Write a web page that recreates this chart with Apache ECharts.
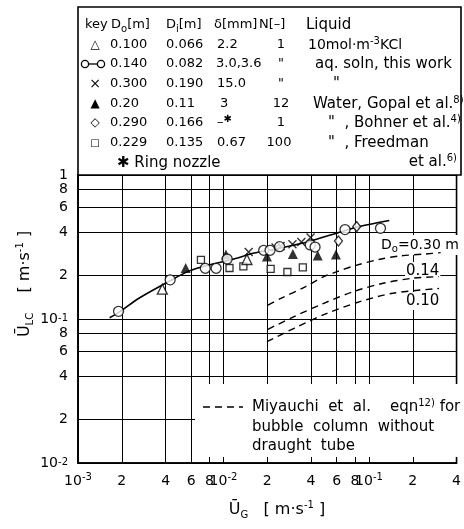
<!DOCTYPE html>
<html><head><meta charset="utf-8">
<script src="https://cdn.jsdelivr.net/npm/echarts@6/dist/echarts.min.js"></script>
<style>html,body{margin:0;padding:0;background:#fff}#c{width:464px;height:529px}</style>
</head><body><div id="c"></div>
<script>
// ---- axis ticks / labels ----
const xTickValues = [0.001,0.002,0.004,0.006,0.008,0.01,0.02,0.04,0.06,0.08,0.1,0.2,0.4];
const xTickLabels = ['10{sup|-3}','2','4','6','8','10{sup|-2}','2','4','6','8','10{sup|-1}','2','4'];
const yTickValues = [0.01,0.02,0.04,0.06,0.08,0.1,0.2,0.4,0.6,0.8,1];
const yTickLabels = ['10{sup|-2}','2','4','6','8','10{sup|-1}','2','4','6','8','1'];

// ---- data (U_G [m/s], U_LC [m/s]) ----
const circ140 = [[0.0019,0.113],[0.0043,0.187],[0.0075,0.225],[0.0089,0.225],[0.0106,0.261],[0.0189,0.300],[0.0209,0.300],[0.0243,0.318],[0.0395,0.327],[0.0426,0.316],[0.0685,0.418],[0.120,0.426]];
const tri100 = [[0.0038,0.161],[0.0145,0.259]];
const cross300 = [[0.0149,0.292],[0.0228,0.314],[0.0247,0.321],[0.0298,0.330],[0.0343,0.342],[0.0397,0.368]];
const triGopal = [[0.0055,0.226],[0.0104,0.281],[0.0199,0.272],[0.0300,0.283],[0.0444,0.276],[0.0593,0.281]];
const diaBohner = [[0.0617,0.348],[0.0823,0.438]];
const sqFreedman = [[0.0070,0.257],[0.0110,0.226],[0.0137,0.232],[0.0211,0.223],[0.0275,0.212],[0.0351,0.228]];
const fitCurve = [[0.00165,0.102],[0.00193,0.112],[0.00264,0.140],[0.00428,0.184],[0.00577,0.215],[0.0079,0.237],[0.0118,0.261],[0.0162,0.287],[0.0218,0.304],[0.0275,0.319],[0.0377,0.343],[0.0515,0.377],[0.0672,0.409],[0.0863,0.439],[0.138,0.483]];
const miy030 = [[0.0202,0.125],[0.0248,0.139],[0.0367,0.168],[0.0489,0.197],[0.0603,0.213],[0.0782,0.233],[0.119,0.260],[0.162,0.274],[0.246,0.283],[0.311,0.289]];
const miy014 = [[0.0202,0.0848],[0.0306,0.104],[0.0489,0.1285],[0.0782,0.155],[0.125,0.177],[0.200,0.192],[0.303,0.197]];
const miy010 = [[0.0199,0.0696],[0.0306,0.0862],[0.0515,0.1095],[0.0867,0.132],[0.146,0.151],[0.303,0.163]];

const FONT = 'DejaVu Sans';
const supRich = {sup:{fontSize:10, fontFamily:FONT, lineHeight:8, verticalAlign:'top'}};
const fullRich = {
  sup:{fontSize:10, fontFamily:FONT, lineHeight:10, verticalAlign:'top'},
  sub:{fontSize:10, fontFamily:FONT, lineHeight:10, verticalAlign:'bottom'}
};
function pickLabel(vals, labels, v){
  let best=0, bd=1e9;
  vals.forEach((t,i)=>{const d=Math.abs(Math.log(t)-Math.log(v)); if(d<bd){bd=d;best=i;}});
  return labels[best];
}
const blk = '#000';
function txt(x,y,text,opt){
  opt = opt||{};
  return {type:'text', x:x, y:y, z:opt.z||5, silent:true,
    style:Object.assign({text:text, fontFamily:FONT, fontSize:opt.fs||13, fill:blk,
      textAlign:opt.align||'left', textVerticalAlign:'middle', lineHeight:18, rich:fullRich}, opt.style||{})};
}
const rowsY = [45,64,84,104,123,143];
const legendGraphics = [
  {type:'rect', shape:{x:78,y:7,width:383,height:168}, style:{fill:'#fff', stroke:blk, lineWidth:1.6}, z:4},
  txt(85,25,'key'), txt(111,25,'D{sub|o}[m]'), txt(166,25,'D{sub|i}[m]'), txt(214,25,'δ[mm]'), txt(259,25,'N[–]'), txt(306,25,'Liquid',{fs:15}),
  // markers
  txt(95,rowsY[0],'△',{align:'center',fs:12}),
  {type:'circle', shape:{cx:85,cy:rowsY[1],r:3.6}, style:{fill:'#fff',stroke:blk,lineWidth:1.3}, z:6},
  {type:'line', shape:{x1:88.6,y1:rowsY[1],x2:97.4,y2:rowsY[1]}, style:{stroke:blk,lineWidth:1.3}, z:6},
  {type:'circle', shape:{cx:101,cy:rowsY[1],r:3.6}, style:{fill:'#fff',stroke:blk,lineWidth:1.3}, z:6},
  txt(95,rowsY[2],'×',{align:'center',fs:14}),
  txt(95,rowsY[3],'▲',{align:'center',fs:12}),
  txt(95,rowsY[4],'◇',{align:'center',fs:12}),
  txt(95,rowsY[5],'□',{align:'center',fs:10}),
  // D_o
  txt(110,rowsY[0],'0.100'), txt(110,rowsY[1],'0.140'), txt(110,rowsY[2],'0.300'), txt(110,rowsY[3],'0.20'), txt(110,rowsY[4],'0.290'), txt(110,rowsY[5],'0.229'),
  // D_i
  txt(166,rowsY[0],'0.066'), txt(166,rowsY[1],'0.082'), txt(166,rowsY[2],'0.190'), txt(166,rowsY[3],'0.11'), txt(166,rowsY[4],'0.166'), txt(166,rowsY[5],'0.135'),
  // delta
  txt(217,rowsY[0],'2.2'), txt(216,rowsY[1],'3.0,3.6'), txt(217,rowsY[2],'15.0'), txt(220,rowsY[3],'3'), txt(217,rowsY[4],'–{sup|✱}'), txt(217,rowsY[5],'0.67'),
  // N
  txt(281,rowsY[0],'1',{align:'center'}), txt(281,rowsY[1],'"',{align:'center'}), txt(281,rowsY[2],'"',{align:'center'}),
  txt(281,rowsY[3],'12',{align:'center'}), txt(281,rowsY[4],'1',{align:'center'}), txt(279,rowsY[5],'100',{align:'center'}),
  // liquid
  txt(308,rowsY[0],'10mol·m{sup|-3}KCl',{fs:14}),
  txt(315,rowsY[1],'aq. soln, this work',{fs:15}),
  txt(333,rowsY[2],'"',{fs:15}),
  txt(313,rowsY[3],'Water, Gopal et al.{sup|8)}',{fs:15}),
  txt(328,rowsY[4],'"  , Bohner et al.{sup|4)}',{fs:15}),
  txt(328,rowsY[5],'"  , Freedman',{fs:15}),
  txt(457,162,'et al.{sup|6)}',{fs:15,align:'right'}),
  txt(117,163,'✱ Ring nozzle',{fs:15})
];
const plotGraphics = [
  // Miyauchi note box
  {type:'rect', shape:{x:195,y:384,width:265,height:73}, style:{fill:'#fff'}, z:1},
  {type:'line', shape:{x1:203,y1:407,x2:243,y2:407}, style:{stroke:blk,lineWidth:1.4,lineDash:[7,5]}, z:5},
  txt(252,407,'Miyauchi  et  al.    eqn{sup|12)} for',{fs:15}),
  txt(252,427,'bubble  column  without',{fs:15}),
  txt(252,446,'draught  tube',{fs:15}),
  // curve labels
  txt(379,245,'D{sub|o}=0.30 m',{fs:14, z:1, style:{backgroundColor:'#fff', padding:[1,2,1,2]}}),
  txt(405,271,'0.14',{fs:15, z:1, style:{backgroundColor:'#fff', padding:[0,1,0,1]}}),
  txt(405,301,'0.10',{fs:15, z:1, style:{backgroundColor:'#fff', padding:[0,1,0,1]}}),
  // axis titles
  {type:'text', x:25, y:284, rotation:Math.PI/2, silent:true, z:5,
    style:{text:'Ū{sub|LC}    [ m·s{sup|-1} ]', fontFamily:FONT, fontSize:16, fill:blk, textAlign:'center', textVerticalAlign:'middle', lineHeight:20, rich:fullRich}},
  {type:'text', x:277, y:510, silent:true, z:5,
    style:{text:'Ū{sub|G}   [ m·s{sup|-1} ]', fontFamily:FONT, fontSize:16, fill:blk, textAlign:'center', textVerticalAlign:'middle', lineHeight:20, rich:fullRich}}
];

const chart = echarts.init(document.getElementById('c'), null, {renderer:'canvas'});
const openSym = {color:'#fff', borderColor:blk, borderWidth:1.3};
chart.setOption({
  animation:false,
  backgroundColor:'#fff',
  grid:{left:78, right:3, top:175, bottom:66, show:true, borderColor:blk, borderWidth:1.6, backgroundColor:'transparent'},
  xAxis:{type:'log', logBase:10, min:0.001, max:0.4,
    axisLine:{show:true, lineStyle:{color:blk, width:1.6}},
    axisTick:{show:true, inside:true, length:5, customValues:xTickValues, lineStyle:{color:blk}},
    axisLabel:{customValues:xTickValues, margin:9, color:blk, fontFamily:FONT, fontSize:14, lineHeight:18, rich:supRich,
      showMinLabel:true, showMaxLabel:true,
      formatter:v=>pickLabel(xTickValues,xTickLabels,v)},
    splitLine:{show:true, lineStyle:{color:blk, width:1}}
  },
  yAxis:{type:'log', logBase:10, min:0.01, max:1,
    axisLine:{show:true, lineStyle:{color:blk, width:1.6}},
    axisTick:{show:false, customValues:yTickValues},
    axisLabel:{customValues:yTickValues, margin:10, color:blk, fontFamily:FONT, fontSize:14, lineHeight:12, rich:supRich,
      showMinLabel:true, showMaxLabel:true, hideOverlap:false,
      formatter:v=>pickLabel(yTickValues,yTickLabels,v)},
    splitLine:{show:true, lineStyle:{color:blk, width:1}}
  },
  graphic:legendGraphics.concat(plotGraphics),
  series:[
    {type:'line', data:fitCurve, smooth:0.3, symbol:'none', lineStyle:{color:blk, width:1.6}, z:3},
    {type:'line', data:miy030, smooth:0.3, symbol:'none', lineStyle:{color:blk, width:1.4, type:[7,5]}, z:3},
    {type:'line', data:miy014, smooth:0.3, symbol:'none', lineStyle:{color:blk, width:1.4, type:[7,5]}, z:3},
    {type:'line', data:miy010, smooth:0.3, symbol:'none', lineStyle:{color:blk, width:1.4, type:[7,5]}, z:3},
    {type:'scatter', data:sqFreedman, symbol:'rect', symbolSize:7, itemStyle:openSym, z:4},
    {type:'scatter', data:triGopal, symbol:'triangle', symbolSize:10, itemStyle:{color:blk}, z:4},
    {type:'scatter', data:tri100, symbol:'triangle', symbolSize:10, itemStyle:openSym, z:4},
    {type:'scatter', data:cross300, symbol:'path://M0,0L10,10M10,0L0,10', symbolSize:8, itemStyle:{color:'none', borderColor:blk, borderWidth:1.4}, z:5},
    {type:'scatter', data:diaBohner, symbol:'diamond', symbolSize:[8,10], itemStyle:openSym, z:5},
    {type:'scatter', data:circ140, symbol:'circle', symbolSize:10, itemStyle:openSym, z:5}
  ]
});
</script></body></html>
